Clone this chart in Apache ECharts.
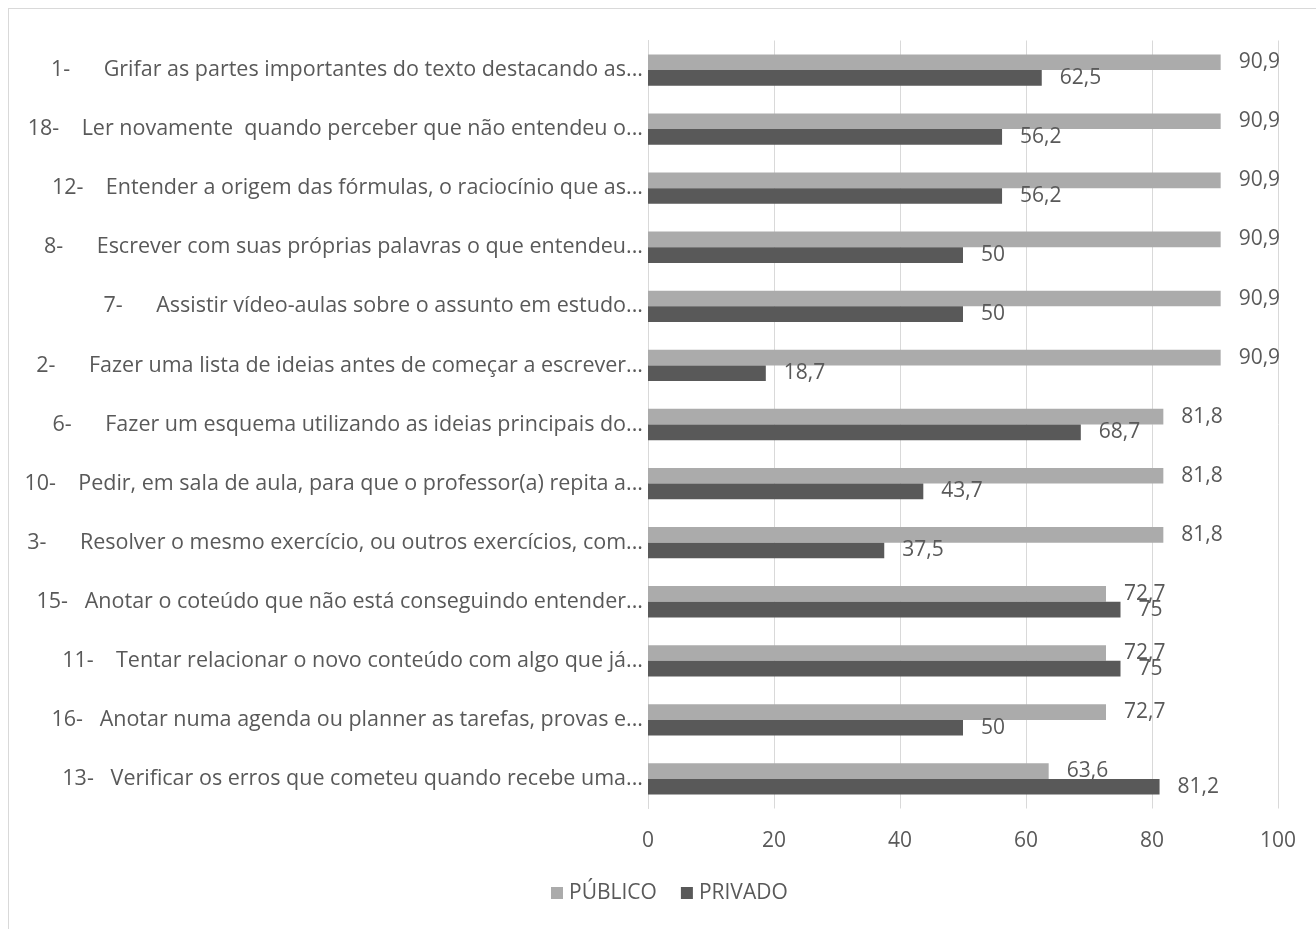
<!DOCTYPE html>
<html><head><meta charset="utf-8">
<script src="https://cdn.jsdelivr.net/npm/echarts@6/dist/echarts.min.js"></script>
<style>
html,body{margin:0;padding:0;background:#fff;}
#frame{position:absolute;left:8px;top:8px;width:1320px;height:940px;border:1px solid #d9d9d9;box-sizing:border-box;}
#c{position:absolute;left:0;top:0;width:1316px;height:929px;}
</style></head>
<body>
<div id="frame"></div>
<div id="c"></div>
<script>
const categories = [
  "1-      Grifar as partes importantes do texto destacando as...",
  "18-    Ler novamente  quando perceber que não entendeu o...",
  "12-    Entender a origem das fórmulas, o raciocínio que as...",
  "8-      Escrever com suas próprias palavras o que entendeu...",
  "7-      Assistir vídeo-aulas sobre o assunto em estudo...",
  "2-      Fazer uma lista de ideias antes de começar a escrever...",
  "6-      Fazer um esquema utilizando as ideias principais do...",
  "10-    Pedir, em sala de aula, para que o professor(a) repita a...",
  "3-      Resolver o mesmo exercício, ou outros exercícios, com...",
  "15-   Anotar o coteúdo que não está conseguindo entender...",
  "11-    Tentar relacionar o novo conteúdo com algo que já...",
  "16-   Anotar numa agenda ou planner as tarefas, provas e...",
  "13-   Verificar os erros que cometeu quando recebe uma..."
];
const publico = [90.9, 90.9, 90.9, 90.9, 90.9, 90.9, 81.8, 81.8, 81.8, 72.7, 72.7, 72.7, 63.6];
const privado = [62.5, 56.2, 56.2, 50, 50, 18.7, 68.7, 43.7, 37.5, 75, 75, 50, 81.2];
const xTicks = [0, 20, 40, 60, 80, 100];

const fmt = p => String(p.value).replace('.', ',');
const FONT = '"Open Sans", "Noto Sans", sans-serif';
const chart = echarts.init(document.getElementById('c'));
chart.setOption({
  animation: false,
  textStyle: {fontFamily: FONT},
  grid: {left: 648, right: 38, top: 40.5, bottom: 120.5},
  legend: {
    data: ['PÚBLICO', 'PRIVADO'], top: 880, left: 551,
    itemWidth: 12, itemHeight: 12, itemGap: 24, icon: 'rect', padding: 0,
    textStyle: {color: '#595959', fontSize: 21, lineHeight: 26, fontFamily: FONT, padding: [0, 0, 0, 1]}
  },
  xAxis: {
    type: 'value', min: xTicks[0], max: xTicks[xTicks.length-1], interval: 20,
    axisLine: {show: false}, axisTick: {show: false},
    splitLine: {lineStyle: {color: '#d9d9d9', width: 1}},
    axisLabel: {color: '#595959', fontSize: 21, margin: 22}
  },
  yAxis: {
    type: 'category', data: categories, inverse: true,
    axisLine: {show: true, lineStyle: {color: '#d9d9d9'}},
    axisTick: {show: false},
    axisLabel: {color: '#595959', fontSize: 21.5, margin: 5}
  },
  series: [
    {name: 'PÚBLICO', type: 'bar', data: publico, barGap: '0%', barCategoryGap: '47%',
     itemStyle: {color: '#ababab'},
     label: {show: true, position: 'right', distance: 18, color: '#595959', fontSize: 21, formatter: fmt}},
    {name: 'PRIVADO', type: 'bar', data: privado, barGap: '0%', barCategoryGap: '47%',
     itemStyle: {color: '#595959'},
     label: {show: true, position: 'right', distance: 18, color: '#595959', fontSize: 21, formatter: fmt}}
  ]
});
</script>
</body></html>
